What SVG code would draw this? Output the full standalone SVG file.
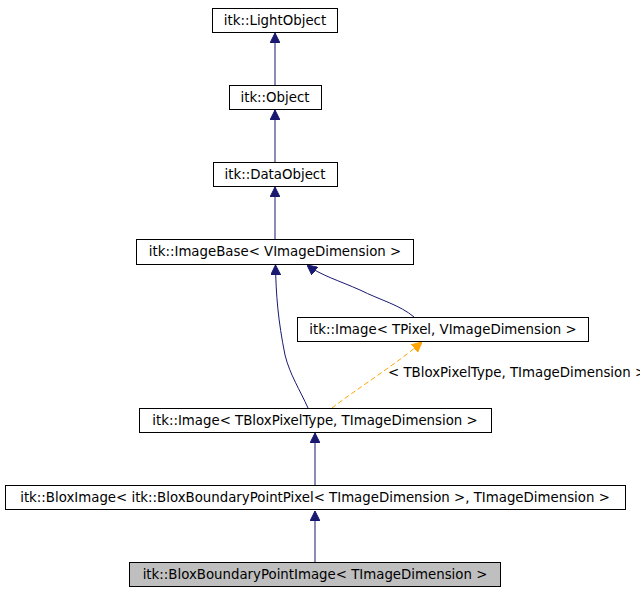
<svg xmlns="http://www.w3.org/2000/svg" width="640" height="592" viewBox="0 0 640 592">
<style>
text{font-family:"DejaVu Sans",sans-serif;font-size:13.33px;fill:#000}
.n rect{fill:#fff;stroke:#000;stroke-width:1}
.n text{text-anchor:middle}
.e{fill:none;stroke:#191970;stroke-width:1}
.t{fill:none;stroke:#ffa500;stroke-width:1;stroke-dasharray:5,3}
</style>
<defs>
<marker id="ah" viewBox="0 0 10 10" refX="10" refY="5" markerWidth="10" markerHeight="10" markerUnits="userSpaceOnUse" orient="auto"><path d="M0,0L10,5L0,10z" fill="#191970" stroke="#191970"/></marker>
<marker id="ao" viewBox="0 0 10 10" refX="10" refY="5" markerWidth="10" markerHeight="10" markerUnits="userSpaceOnUse" orient="auto"><path d="M0,0L10,5L0,10z" fill="#ffa500" stroke="#ffa500"/></marker>
</defs>
<g id="edges">
<path class="e" d="M275,85V33" marker-end="url(#ah)"/>
<path class="e" d="M275,162V110" marker-end="url(#ah)"/>
<path class="e" d="M275,239V187" marker-end="url(#ah)"/>
<path class="e" d="M308,408C300,390 290,375 285,355C278,320 276,295 275.5,265" marker-end="url(#ah)"/>
<path class="e" d="M414,317C400,305 380,300 360,290C340,281 320,275 307,265" marker-end="url(#ah)"/>
<path class="t" d="M332,408C355,390 395,365 422,342" marker-end="url(#ao)"/>
<text x="388" y="377">&lt; TBloxPixelType, TImageDimension &gt;</text>
<path class="e" d="M315,485V433" marker-end="url(#ah)"/>
<path class="e" d="M315,562V511" marker-end="url(#ah)"/>
</g>
<g id="n1" class="n"><rect x="212.5" y="8.5" width="125" height="24"/><text x="275" y="25">itk::LightObject</text></g>
<g id="n2" class="n"><rect x="229.5" y="85.5" width="92" height="24"/><text x="275" y="102">itk::Object</text></g>
<g id="n3" class="n"><rect x="213.5" y="162.5" width="124" height="24"/><text x="275" y="179">itk::DataObject</text></g>
<g id="n4" class="n"><rect x="136.5" y="239.5" width="277" height="25"/><text x="275" y="256">itk::ImageBase&lt; VImageDimension &gt;</text></g>
<g id="n5" class="n"><rect x="297.5" y="317.5" width="291" height="24"/><text x="443" y="334">itk::Image&lt; TPixel, VImageDimension &gt;</text></g>
<g id="n6" class="n"><rect x="139.5" y="408.5" width="352" height="24"/><text x="315" y="425">itk::Image&lt; TBloxPixelType, TImageDimension &gt;</text></g>
<g id="n7" class="n"><rect x="5.5" y="485.5" width="620" height="24"/><text x="315" y="502">itk::BloxImage&lt; itk::BloxBoundaryPointPixel&lt; TImageDimension &gt;, TImageDimension &gt;</text></g>
<g id="n8" class="n"><rect x="129.5" y="562.5" width="371" height="24" style="fill:#bfbfbf"/><text x="315" y="579">itk::BloxBoundaryPointImage&lt; TImageDimension &gt;</text></g>
</svg>
